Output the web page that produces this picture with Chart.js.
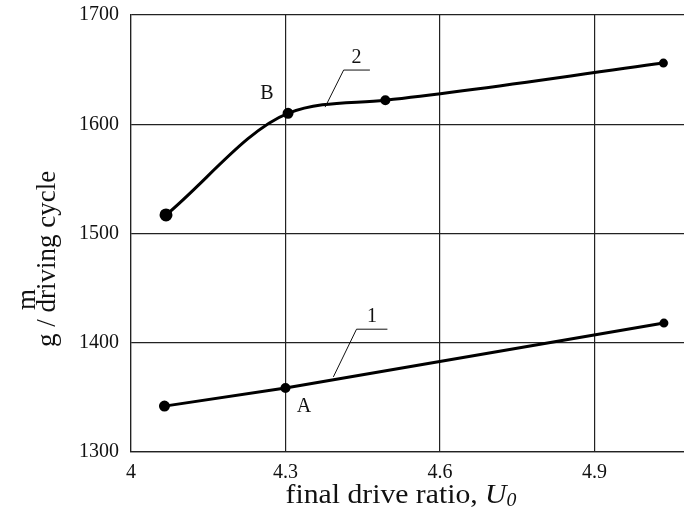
<!DOCTYPE html>
<html>
<head>
<meta charset="utf-8">
<script src="https://cdn.jsdelivr.net/npm/chart.js@4.4.1/dist/chart.umd.min.js"></script>
<style>
  html, body { margin: 0; padding: 0; background: #fff; }
  #wrap { width: 684px; height: 516px; }
</style>
</head>
<body>
<div id="wrap"><canvas id="chart"></canvas></div>
<script>
  // curve 1 and curve 2
  const ratio1 = [4.065, 4.3, 5.035];
  const mass1 = [1342, 1358.5, 1418];
  const ratio2 = [4.068, 4.305, 4.494, 5.034];
  const mass2 = [1517, 1610, 1622, 1656];

  const xTicks = [4, 4.3, 4.6, 4.9];
  const yTicks = [1300, 1400, 1500, 1600, 1700];

  const SERIF = '"Liberation Serif", "DejaVu Serif", serif';

  // labels and leader lines, in data units
  const notes = [
    { text: 'B', x: 4.264, y: 1627.6 },
    { text: '2', x: 4.438, y: 1660.6 },
    { text: 'A', x: 4.336, y: 1341.2 },
    { text: '1', x: 4.468, y: 1423.7 },
  ];
  const leaders = [
    [[4.377, 1615.7], [4.413, 1649.6], [4.464, 1649.6]],
    [[4.393, 1368.7], [4.438, 1412.4], [4.498, 1412.4]],
  ];

  const extrasPlugin = {
    id: 'extras',
    afterDatasetsDraw(chart) {
      const { ctx, scales: { x, y } } = chart;
      ctx.save();
      ctx.fillStyle = '#111';
      ctx.strokeStyle = '#111';
      ctx.lineWidth = 1;
      leaders.forEach((pts) => {
        ctx.beginPath();
        pts.forEach((p, i) => {
          const px = x.getPixelForValue(p[0]);
          const py = y.getPixelForValue(p[1]);
          if (i === 0) ctx.moveTo(px, py); else ctx.lineTo(px, py);
        });
        ctx.stroke();
      });
      ctx.font = '20px ' + SERIF;
      ctx.textAlign = 'center';
      ctx.textBaseline = 'middle';
      notes.forEach((n) => {
        ctx.fillText(n.text, x.getPixelForValue(n.x), y.getPixelForValue(n.y));
      });
      ctx.restore();
    },
    afterDraw(chart) {
      const { ctx } = chart;
      ctx.save();
      ctx.fillStyle = '#111';
      // y title
      ctx.font = '27px ' + SERIF;
      ctx.textBaseline = 'alphabetic';
      ctx.textAlign = 'left';
      ctx.save();
      ctx.translate(55, 347);
      ctx.rotate(-Math.PI / 2);
      ctx.fillText('g / driving cycle', 0, 0);
      ctx.restore();
      ctx.save();
      ctx.translate(35, 310);
      ctx.rotate(-Math.PI / 2);
      ctx.fillText('m', 0, 0);
      ctx.restore();
      // x title
      const main = 'final drive ratio, ';
      ctx.font = '27px ' + SERIF;
      const w1 = ctx.measureText(main).width;
      ctx.font = 'italic 27px ' + SERIF;
      const w2 = ctx.measureText('U').width;
      ctx.font = 'italic 18px ' + SERIF;
      const w3 = ctx.measureText('0').width;
      const total = w1 + w2 + w3;
      ctx.translate(401, 503);
      ctx.scale(1.1, 1);
      let cx = -total / 2;
      ctx.font = '27px ' + SERIF;
      ctx.fillText(main, cx, 0);
      cx += w1;
      ctx.font = 'italic 27px ' + SERIF;
      ctx.fillText('U', cx, 0);
      cx += w2;
      ctx.font = 'italic 18px ' + SERIF;
      ctx.fillText('0', cx, 3);
      ctx.restore();
    },
  };

  new Chart(document.getElementById('chart'), {
    type: 'scatter',
    data: {
      datasets: [
        {
          label: '1',
          data: ratio1.map((r, i) => ({ x: r, y: mass1[i] })),
          showLine: true,
          borderColor: '#000',
          backgroundColor: '#000',
          borderWidth: 3,
          pointRadius: [4, 3.5, 3],
          tension: 0,
        },
        {
          label: '2',
          data: ratio2.map((r, i) => ({ x: r, y: mass2[i] })),
          showLine: true,
          borderColor: '#000',
          backgroundColor: '#000',
          borderWidth: 3,
          pointRadius: [5, 4, 3.5, 3],
          cubicInterpolationMode: 'monotone',
        },
      ],
    },
    options: {
      responsive: true,
      maintainAspectRatio: false,
      animation: false,
      layout: { autoPadding: false, padding: { top: 15, right: 0, left: 0, bottom: 0 } },
      plugins: {
        legend: { display: false },
        tooltip: { enabled: false },
      },
      scales: {
        x: {
          type: 'linear',
          min: 4,
          max: 5.074,
          afterBuildTicks: (s) => { s.ticks = xTicks.map((v) => ({ value: v })); },
          afterFit: (s) => {
            s.height = 64;
            s.paddingLeft = 0;
            s.paddingRight = 0;
          },
          grid: { color: '#222', lineWidth: 1.2, drawTicks: false },
          border: { display: true, color: '#222', width: 1.2 },
          ticks: {
            color: '#111',
            padding: 9,
            font: { family: SERIF, size: 20 },
            callback: (v) => String(v),
          },
        },
        y: {
          type: 'linear',
          min: 1300,
          max: 1700,
          afterBuildTicks: (s) => { s.ticks = yTicks.map((v) => ({ value: v })); },
          afterFit: (s) => {
            s.width = 131;
            s.paddingTop = 0;
            s.paddingBottom = 0;
          },
          grid: { color: '#222', lineWidth: 1.2, drawTicks: false },
          border: { display: true, color: '#222', width: 1.2 },
          ticks: {
            color: '#111',
            padding: 12,
            font: { family: SERIF, size: 20 },
            callback: (v) => String(v),
          },
        },
      },
    },
    plugins: [extrasPlugin],
  });
</script>
</body>
</html>
